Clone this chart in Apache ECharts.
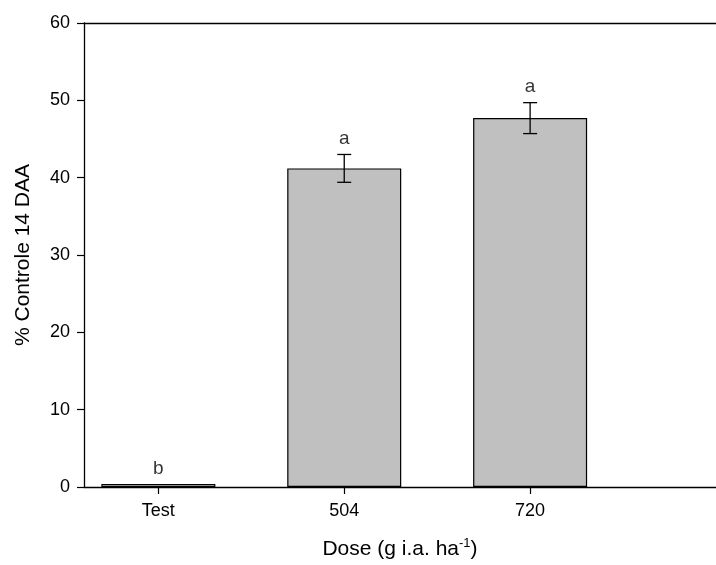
<!DOCTYPE html>
<html>
<head>
<meta charset="utf-8">
<script src="https://cdn.jsdelivr.net/npm/echarts@6/dist/echarts.min.js"></script>
<style>
  html, body { margin: 0; padding: 0; background: #fff; }
  #chart { width: 716px; height: 565px; }
</style>
</head>
<body>
<div id="chart"></div>
<script>
// Treatments, their x positions, mean control (%) and standard errors
const categories = ['Test', '504', '720'];
const positions = [1, 2, 3];
const means = [0.4, 41.2, 47.7];
const errors = [0, 1.8, 2.0];
const letters = ['b', 'a', 'a'];
const yTicks = [0, 10, 20, 30, 40, 50, 60];

const FONT = '"Liberation Sans", Arial, sans-serif';
const INK = '#000';

const barData = positions.map((x, i) => [x, means[i]]);
const errData = positions.map((x, i) => [x, means[i] - errors[i], means[i] + errors[i]]);
const letterData = positions.map((x, i) => ({ value: [x, means[i] + errors[i]], label: { formatter: letters[i] } }));

const chart = echarts.init(document.getElementById('chart'), null, { renderer: 'canvas' });

chart.setOption({
  animation: false,
  backgroundColor: '#ffffff',
  grid: { left: 84, right: -11, top: 23, bottom: 78, containLabel: false },
  xAxis: [
    {
      type: 'value',
      min: 0.6,
      max: 4,
      position: 'bottom',
      name: 'Dose (g i.a. ha{sup|-1})',
      nameLocation: 'middle',
      nameGap: 50,
      nameTextStyle: {
        fontFamily: FONT, fontSize: 21, color: INK,
        rich: { sup: { fontFamily: FONT, fontSize: 13, color: INK, verticalAlign: 'top', lineHeight: 24 } }
      },
      splitLine: { show: false },
      axisLine: { show: true, lineStyle: { color: INK, width: 1.3 } },
      axisTick: { show: true, inside: false, length: 7, lineStyle: { color: INK, width: 1.2 }, customValues: positions },
      axisLabel: {
        fontFamily: FONT, fontSize: 18, color: INK, margin: 15,
        customValues: positions,
        formatter: v => categories[positions.indexOf(v)] ?? ''
      }
    },
    {
      type: 'value',
      min: 0.6,
      max: 4,
      position: 'top',
      axisLine: { show: true, onZero: false, lineStyle: { color: INK, width: 1.3 } },
      axisTick: { show: false },
      axisLabel: { show: false },
      splitLine: { show: false }
    }
  ],
  yAxis: {
    type: 'value',
    min: 0,
    max: 60,
    interval: 10,
    name: '% Controle 14 DAA',
    nameLocation: 'middle',
    nameGap: 50,
    nameRotate: 90,
    nameTextStyle: { fontFamily: FONT, fontSize: 21, color: INK },
    splitLine: { show: false },
    axisLine: { show: true, lineStyle: { color: INK, width: 1.3 } },
    axisTick: { show: true, inside: false, length: 7, lineStyle: { color: INK, width: 1.2 } },
    axisLabel: {
      fontFamily: FONT, fontSize: 18, color: INK, margin: 14,
      customValues: yTicks
    }
  },
  series: [
    {
      type: 'bar',
      xAxisIndex: 0,
      data: barData,
      barWidth: 114,
      itemStyle: { color: '#c0c0c0', borderColor: INK, borderWidth: 1.2 },
      z: 2
    },
    {
      type: 'custom',
      xAxisIndex: 0,
      data: errData,
      z: 3,
      renderItem: (params, api) => {
        const x = api.value(0);
        const lo = api.coord([x, api.value(1)]);
        const hi = api.coord([x, api.value(2)]);
        if (Math.abs(hi[1] - lo[1]) < 0.5) return { type: 'group', children: [] };
        const half = 7;
        const style = { stroke: INK, lineWidth: 1.3 };
        return {
          type: 'group',
          children: [
            { type: 'line', shape: { x1: lo[0], y1: lo[1], x2: hi[0], y2: hi[1] }, style },
            { type: 'line', shape: { x1: hi[0] - half, y1: hi[1], x2: hi[0] + half, y2: hi[1] }, style },
            { type: 'line', shape: { x1: lo[0] - half, y1: lo[1], x2: lo[0] + half, y2: lo[1] }, style }
          ]
        };
      }
    },
    {
      type: 'scatter',
      xAxisIndex: 0,
      data: letterData,
      symbolSize: 0,
      silent: true,
      z: 4,
      label: {
        show: true,
        position: 'top',
        distance: 6,
        fontFamily: FONT,
        fontSize: 19,
        color: INK
      }
    }
  ]
});
</script>
</body>
</html>
